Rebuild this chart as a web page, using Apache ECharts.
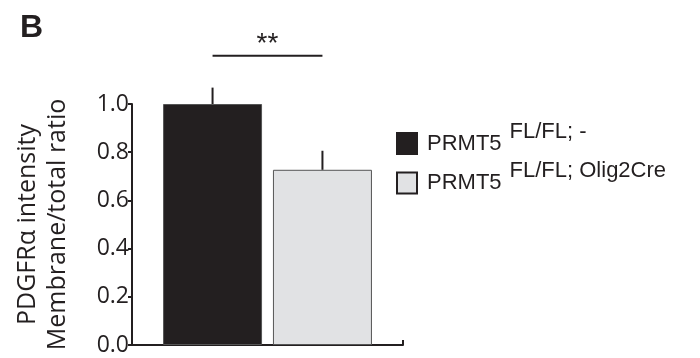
<!DOCTYPE html>
<html>
<head>
<meta charset="utf-8">
<script src="https://cdn.jsdelivr.net/npm/echarts@6/dist/echarts.min.js"></script>
<style>html,body{margin:0;padding:0;background:#fff;}#chart{width:700px;height:358px;}</style>
</head>
<body>
<div id="chart"></div>
<script>
// ---- data ----
const panelLetter = 'B';
const categories = [''];
const geneLabels = ['PRMT5', 'PRMT5'];
const genotypeLabels = ['FL/FL; -', 'FL/FL; Olig2Cre'];
const seriesNames = ['PRMT5 FL/FL; -', 'PRMT5 FL/FL; Olig2Cre'];
const meanValues = [1.0, 0.727];
const errorValues = [0.068, 0.079];
const yMin = 0, yMax = 1.0, yInterval = 0.2;
const yAxisTitleLines = ['PDGFR\u03b1 intensity', 'Membrane/total ratio'];
const sigLabel = '**';
const sigFrom = 0, sigTo = 1, sigLevel = 1.2;

// ---- styles ----
const INK = '#231f20';
const barColors = ['#231f20', '#e1e2e4'];
const BAR_W = 99;
const BAR_GAP_PCT = 11;
const AXIS_FONT = '"Open Sans", "Liberation Sans", sans-serif';
const LEG_FONT = '"Liberation Sans", Arial, sans-serif';

function barCenterX(api, idx) {
  const c = api.coord([0, 0]);
  const gap = BAR_W * BAR_GAP_PCT / 100;
  const n = meanValues.length;
  const total = n * BAR_W + (n - 1) * gap;
  return c[0] - total / 2 + BAR_W / 2 + idx * (BAR_W + gap);
}

const chart = echarts.init(document.getElementById('chart'), null, {renderer: 'canvas'});

const barSeries = seriesNames.map((name, i) => ({
  name: name,
  type: 'bar',
  barWidth: BAR_W,
  barGap: BAR_GAP_PCT + '%',
  data: [meanValues[i]],
  itemStyle: {color: barColors[i], borderColor: '#555', borderWidth: 1},
  silent: true
}));

const errSeries = {
  type: 'custom',
  clip: false,
  silent: true,
  data: meanValues.map((m, i) => [0, m, m + errorValues[i], i]),
  renderItem: function (params, api) {
    const idx = api.value(3);
    const x = barCenterX(api, idx);
    const y0 = api.coord([0, api.value(1)])[1];
    const y1 = api.coord([0, api.value(2)])[1];
    return {type: 'line', shape: {x1: x, y1: y0, x2: x, y2: y1}, style: {stroke: INK, lineWidth: 2}};
  },
  z: 5
};

const sigSeries = {
  type: 'custom',
  clip: false,
  silent: true,
  data: [[0, sigLevel, sigFrom, sigTo]],
  renderItem: function (params, api) {
    const xa = barCenterX(api, api.value(2));
    const xb = barCenterX(api, api.value(3));
    const y = api.coord([0, api.value(1)])[1];
    return {
      type: 'group',
      children: [
        {type: 'line', shape: {x1: xa, y1: y, x2: xb, y2: y}, style: {stroke: INK, lineWidth: 2}},
        {type: 'text', x: (xa + xb) / 2, y: y - 26, style: {text: sigLabel, fontSize: 28, fontFamily: LEG_FONT, fill: INK, align: 'center', verticalAlign: 'top'}}
      ]
    };
  },
  z: 5
};

function legendFor(i, top) {
  return {
    data: [{name: seriesNames[i], itemStyle: {borderColor: INK, borderWidth: 2}}],
    orient: 'vertical',
    left: 391,
    top: top,
    icon: 'rect',
    itemWidth: 20,
    itemHeight: 21,
    selectedMode: false,
    formatter: function () { return '{a|' + geneLabels[i] + '}{b|' + genotypeLabels[i] + '}'; },
    textStyle: {
      color: INK,
      fontFamily: LEG_FONT,
      rich: {
        a: {fontSize: 22, fontFamily: LEG_FONT, color: INK, lineHeight: 46, padding: [0, 8, 0, 5], verticalAlign: 'middle'},
        b: {fontSize: 22, fontFamily: LEG_FONT, color: INK, lineHeight: 22, verticalAlign: 'top'}
      }
    }
  };
}

chart.setOption({
  animation: false,
  title: {text: panelLetter, left: 15, top: 7, textStyle: {fontSize: 32, fontWeight: 'bold', color: INK, fontFamily: LEG_FONT}},
  grid: {left: 132, right: 297, top: 104, bottom: 13, containLabel: false},
  legend: [legendFor(0, 115.5), legendFor(1, 155)],
  xAxis: {
    type: 'category',
    data: categories,
    axisLine: {lineStyle: {color: INK, width: 2}},
    axisTick: {show: true, inside: true, length: 5, alignWithLabel: false, lineStyle: {color: INK, width: 2}},
    axisLabel: {show: false},
    splitLine: {show: false}
  },
  yAxis: {
    type: 'value',
    min: yMin, max: yMax, interval: yInterval,
    name: yAxisTitleLines.join('\n'),
    nameLocation: 'middle',
    nameGap: 59,
    nameRotate: 90,
    nameTextStyle: {fontSize: 25, fontFamily: AXIS_FONT, color: INK, lineHeight: 30},
    axisLine: {show: true, lineStyle: {color: INK, width: 2}},
    axisTick: {show: true, length: 4, lineStyle: {color: INK, width: 2}},
    axisLabel: {fontSize: 23, fontFamily: AXIS_FONT, color: INK, margin: 3, formatter: v => v.toFixed(1)},
    splitLine: {show: false}
  },
  series: barSeries.concat([errSeries, sigSeries])
});
</script>
</body>
</html>
